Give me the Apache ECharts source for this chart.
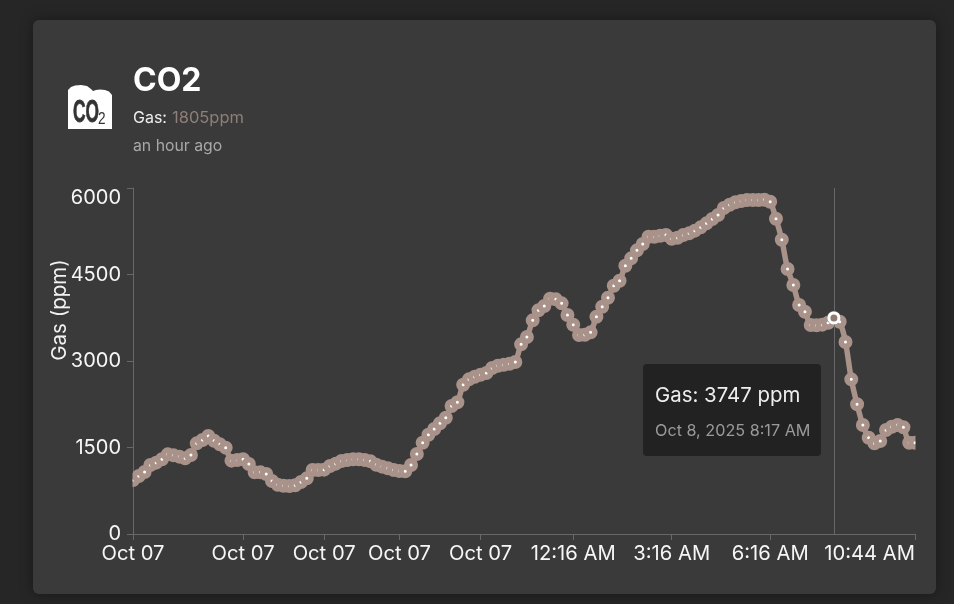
<!DOCTYPE html>
<html><head><meta charset="utf-8">
<style>html,body{margin:0;padding:0;background:#262626}#c{width:954px;height:604px}</style>
<script src="https://cdn.jsdelivr.net/npm/echarts@6/dist/echarts.min.js"></script>
</head><body><div id="c"></div>
<script>
const gasPpm = [936,1006,1075,1196,1237,1295,1381,1364,1341,1312,1370,1572,1630,1699,1618,1555,1497,1272,1283,1295,
1214,1069,1069,1040,919,855,838,832,844,902,965,1110,1110,1116,1179,1220,1266,1283,1295,1295,
1283,1260,1202,1168,1139,1110,1092,1087,1196,1387,1583,1722,1821,1920,2017,2220,2284,2589,2682,2728,
2762,2792,2878,2918,2936,2953,2982,3289,3416,3705,3879,3953,4080,4069,4000,3797,3629,3451,3456,3497,
3768,3941,4097,4305,4392,4652,4780,4919,5028,5155,5155,5172,5185,5120,5138,5185,5214,5260,5318,5387,
5462,5531,5653,5710,5752,5774,5792,5792,5792,5797,5762,5467,5103,4595,4318,3971,3855,3624,3619,3630,
3664,3747,3681,3329,2682,2249,1890,1670,1573,1613,1803,1861,1890,1850,1583,1583];
const tickIndex = [0,19,33,46,60,76,93,110,135];
const tickLabels = ['Oct 07','Oct 07','Oct 07','Oct 07','Oct 07','12:16 AM','3:16 AM','6:16 AM','10:44 AM'];
const categories = gasPpm.map((_, i) => { const k = tickIndex.indexOf(i); return k >= 0 ? tickLabels[k] : String(i); });
const hoverIndex = 121;
const yTicks = {min: 0, max: 6000, interval: 1500};
const lineColor = '#a8928a';
const axisColor = '#686868';
const cardColor = '#3a3a3a';
const font = 'Inter';
const shown = (i) => tickIndex.includes(i);

const chart = echarts.init(document.getElementById('c'), null, {renderer: 'canvas'});
chart.setOption({
  backgroundColor: '#262626',
  animation: false,
  textStyle: {fontFamily: font},
  grid: {left: 133, right: 39, top: 188, bottom: 70, containLabel: false},
  xAxis: {
    type: 'category', data: categories, boundaryGap: false,
    axisLine: {lineStyle: {color: axisColor, width: 1}},
    axisTick: {show: true, interval: shown, length: 6, lineStyle: {color: axisColor}},
    axisLabel: {interval: shown, color: '#f6f6f6', fontSize: 20.2, fontFamily: font, margin: 10, hideOverlap: false,
      alignMaxLabel: 'right'},
    splitLine: {show: false}
  },
  yAxis: {
    type: 'value', min: yTicks.min, max: yTicks.max, interval: yTicks.interval,
    name: 'Gas (ppm)', nameLocation: 'middle', nameGap: 63, nameMoveOverlap: false,
    nameTextStyle: {color: '#f2f2f2', fontSize: 20.5, fontFamily: font, padding: [0,0,0,102]},
    axisLine: {show: true, lineStyle: {color: axisColor, width: 1}},
    axisTick: {show: true, length: 6, lineStyle: {color: axisColor}},
    axisLabel: {color: '#f6f6f6', fontSize: 20, fontFamily: font, margin: 12, verticalAlignMaxLabel: 'top',
      formatter: (v) => String(v)},
    splitLine: {show: false}
  },
  series: [{
    name: 'Gas', type: 'line', data: gasPpm, smooth: 0.25, clip: true,
    showAllSymbol: true, symbol: 'circle', symbolSize: 8.5,
    lineStyle: {color: lineColor, width: 5.5},
    itemStyle: {color: '#ffffff', borderColor: lineColor, borderWidth: 5.5},
    markLine: {silent: true, symbol: 'none', label: {show: false},
      lineStyle: {color: axisColor, width: 1, type: 'solid'}, data: [{xAxis: hoverIndex}]},
    z: 3
  }, {
    name: 'Hover', type: 'line', data: gasPpm.map((v, i) => i === hoverIndex ? v : null),
    symbol: 'circle', symbolSize: 10, showAllSymbol: true, lineStyle: {opacity: 0},
    itemStyle: {color: '#8d7b73', borderColor: '#ffffff', borderWidth: 3}, z: 5
  }],
  graphic: [
    {type: 'rect', z: -10, shape: {x: 33, y: 20, width: 903, height: 574, r: 6},
      style: {fill: cardColor, shadowBlur: 14, shadowColor: 'rgba(0,0,0,0.35)'}},
    {type: 'rect', z: 6, shape: {x: 125, y: 466, width: 7.5, height: 28}, style: {fill: cardColor}},
    {type: 'rect', z: 6, shape: {x: 915.5, y: 430, width: 9, height: 26}, style: {fill: cardColor}},
    {type: 'polygon', z: 1, shape: {points: [[68,129],[68,90],[71,87],[75,85.5],[81,85],[87,86],[91,89],[93,91],[96,90],[100,89.5],[105,90],[109,91.5],[112,95],[112,129]]},
      style: {fill: '#ffffff'}},
    {type: 'text', z: 2, x: 73, y: 98, scaleX: 0.56, style: {text: 'CO', fill: '#333', stroke: '#333', lineWidth: 0.8, font: 'bold 31px "Liberation Sans"'}},
    {type: 'text', z: 2, x: 98, y: 112, scaleX: 0.85, style: {text: '2', fill: '#333', font: '16px "Liberation Sans"'}},
    {type: 'text', z: 2, x: 133, y: 65, style: {text: 'CO2', fill: '#ffffff', font: 'bold 32px Inter'}},
    {type: 'text', z: 2, x: 133, y: 110, style: {text: 'Gas: ', fill: '#eeeeee', font: '16px Inter'}},
    {type: 'text', z: 2, x: 172, y: 110, style: {text: '1805ppm', fill: '#8f7f78', font: '16.5px Inter'}},
    {type: 'text', z: 2, x: 133, y: 138, style: {text: 'an hour ago', fill: '#a8a8a8', font: '15.8px Inter'}},
    {type: 'rect', z: 8, shape: {x: 643, y: 364, width: 178, height: 92, r: 4}, style: {fill: '#222222'}},
    {type: 'text', z: 9, x: 655, y: 386, style: {text: 'Gas: 3747 ppm', fill: '#eeeeee', font: '20.4px Inter'}},
    {type: 'text', z: 9, x: 655, y: 423, style: {text: 'Oct 8, 2025 8:17 AM', fill: '#9a9a9a', font: '16.2px Inter'}}
  ]
});
</script></body></html>
